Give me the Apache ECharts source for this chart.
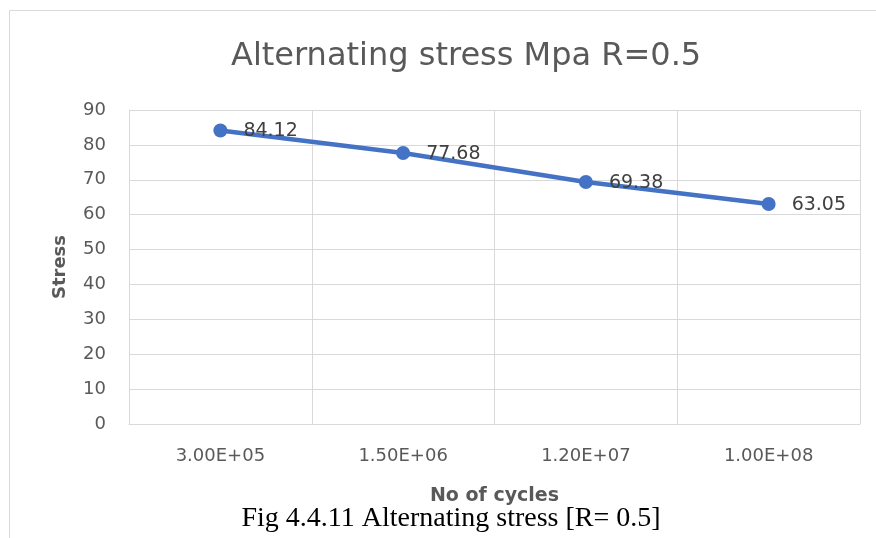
<!DOCTYPE html>
<html>
<head>
<meta charset="utf-8">
<script src="https://cdn.jsdelivr.net/npm/echarts@6/dist/echarts.min.js"></script>
<style>
  html, body { margin: 0; padding: 0; background: #fff; }
  #chart { width: 876px; height: 538px; }
</style>
</head>
<body>
<div id="chart"></div>
<script>
const cycles = ['3.00E+05', '1.50E+06', '1.20E+07', '1.00E+08'];
const stress = [84.12, 77.68, 69.38, 63.05];
const yTicks = { min: 0, max: 90, step: 10 };

const font = 'DejaVu Sans';
const chart = echarts.init(document.getElementById('chart'));
chart.setOption({
  animation: false,
  backgroundColor: '#fff',
  title: {
    text: 'Alternating stress Mpa R=0.5',
    left: 231,
    top: 41,
    padding: 0,
    textStyle: { fontFamily: font, fontSize: 32, fontWeight: 'normal', color: '#595959' }
  },
  graphic: [
    {
      type: 'rect',
      shape: { x: 9.5, y: 10.5, width: 900, height: 600 },
      style: { fill: 'none', stroke: '#d9d9d9', lineWidth: 1 },
      silent: true
    },
    {
      type: 'text',
      style: {
        text: 'Fig 4.4.11 Alternating stress [R= 0.5]',
        x: 451, y: 533,
        textAlign: 'center',
        textVerticalAlign: 'bottom',
        font: '28px "Liberation Serif"',
        fill: '#000'
      },
      silent: true
    }
  ],
  grid: { left: 129, top: 110, right: 16, bottom: 114 },
  xAxis: {
    type: 'category',
    data: cycles,
    boundaryGap: true,
    name: 'No of cycles',
    nameLocation: 'middle',
    nameGap: 63,
    nameTextStyle: { fontFamily: font, fontSize: 19, fontWeight: 'bold', color: '#595959' },
    axisLine: { show: true, lineStyle: { color: '#d9d9d9', width: 1 } },
    axisTick: { show: false },
    axisLabel: { margin: 23, fontFamily: font, fontSize: 18, color: '#595959' },
    splitLine: { show: true, lineStyle: { color: '#d9d9d9', width: 1 } }
  },
  yAxis: {
    type: 'value',
    min: yTicks.min,
    max: yTicks.max,
    interval: yTicks.step,
    name: 'Stress',
    nameLocation: 'middle',
    nameGap: 60,
    nameRotate: 90,
    nameTextStyle: { fontFamily: font, fontSize: 18, fontWeight: 'bold', color: '#595959' },
    axisLine: { show: true, lineStyle: { color: '#d9d9d9', width: 1 } },
    axisTick: { show: false },
    axisLabel: { margin: 23, fontFamily: font, fontSize: 18, color: '#595959' },
    splitLine: { show: true, lineStyle: { color: '#d9d9d9', width: 1 } }
  },
  series: [
    {
      type: 'line',
      data: stress,
      symbol: 'circle',
      symbolSize: 14,
      lineStyle: { color: '#4472C4', width: 4.5 },
      itemStyle: { color: '#4472C4' },
      label: {
        show: true,
        position: 'right',
        distance: 16,
        offset: [0, 1],
        fontFamily: font,
        fontSize: 19,
        color: '#404040',
        formatter: (p) => p.value.toFixed(2)
      }
    }
  ]
});
</script>
</body>
</html>
